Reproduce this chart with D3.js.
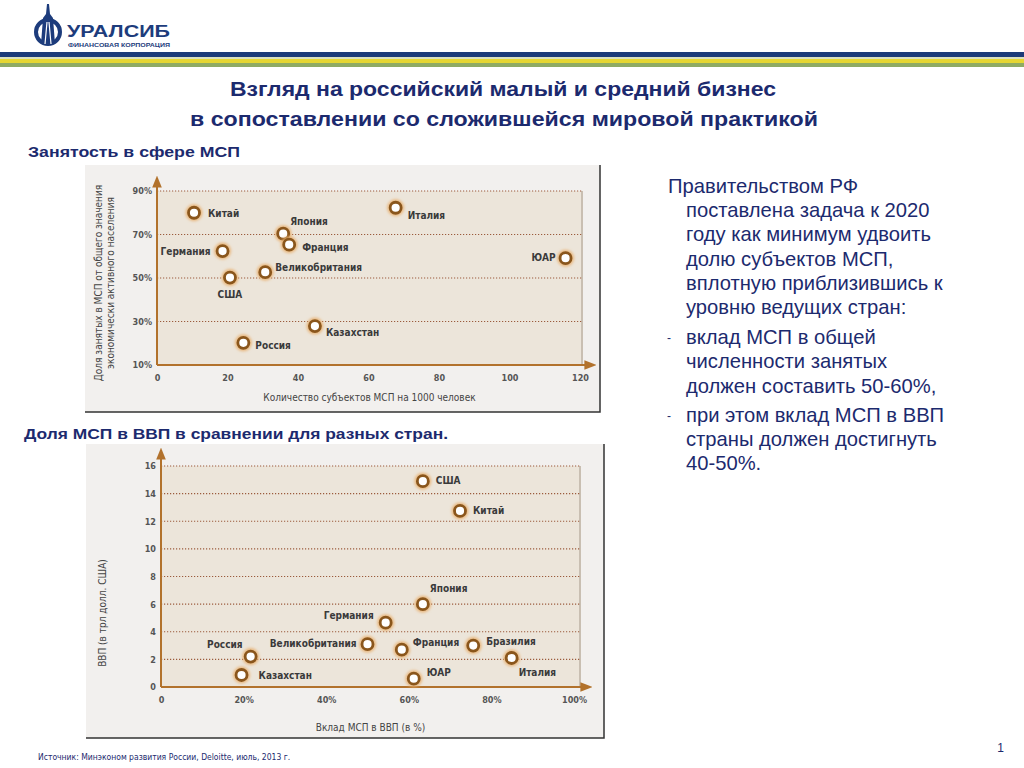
<!DOCTYPE html>
<html>
<head>
<meta charset="utf-8">
<script src="https://cdn.jsdelivr.net/npm/d3@7"></script>
<style>
  body { margin: 0; background: #fff; }
  svg { display: block; font-family: Arial, "Liberation Sans", sans-serif; }
  .lbl, .tick text, .atitle { font-family: "Liberation Sans Narrow", "DejaVu Sans Condensed", Arial, sans-serif; }
</style>
</head>
<body>
<svg id="slide" width="1024" height="768"></svg>
<script>
// --- chart 1: employment in SME ---
var countries1 = ["Китай", "Италия", "Япония", "Франция", "Германия", "Великобритания", "США", "ЮАР", "Казахстан", "Россия"];
var smePer1000 = [10.5, 67.7, 35.8, 37.5, 18.6, 30.7, 20.7, 115.9, 44.8, 24.5];
var employShare = [80, 82.3, 70.4, 65.3, 62.4, 52.7, 50.2, 59.1, 27.9, 20.2];
var yTicks1 = [10, 30, 50, 70, 90];
var xTicks1 = [0, 20, 40, 60, 80, 100, 120];

// --- chart 2: SME share in GDP ---
var countries2 = ["США", "Китай", "Япония", "Германия", "Великобритания", "Франция", "Бразилия", "Италия", "Россия", "Казахстан", "ЮАР"];
var smeGdpShare = [63.4, 72.4, 63.4, 54.4, 50, 58.3, 75.6, 84.9, 21.7, 19.5, 61.2];
var gdpTrln = [14.9, 12.75, 6.0, 4.66, 3.1, 2.7, 3.0, 2.1, 2.2, 0.87, 0.6];
var yTicks2 = [0, 2, 4, 6, 8, 10, 12, 14, 16];
var xTicks2 = [0, 20, 40, 60, 80, 100];

// label placement (dx, dy, anchor) per point
var place1 = [[14, 4, "start"], [12, 11, "start"], [7, -9, "start"], [13, 6, "start"], [-12, 4, "end"],
              [10, -1, "start"], [0, 20, "middle"], [-10, 3, "end"], [11, 10, "start"], [12, 6, "start"]];
var place2 = [[13, 3, "start"], [13, 3, "start"], [7, -12, "start"], [-12, -4, "end"], [-11, 3, "end"],
              [11, -4, "start"], [13, -1, "start"], [7, 18, "start"], [-8, -9, "end"], [17, 4, "start"], [13, -3, "start"]];

var navy = "#1c2a6e";
var svg = d3.select("#slide");

var defs = svg.append("defs");
var glow = defs.append("filter").attr("id", "glow").attr("x", "-50%").attr("y", "-50%").attr("width", "200%").attr("height", "200%");
glow.append("feGaussianBlur").attr("stdDeviation", 1.4);
defs.append("marker").attr("id", "arrow").attr("viewBox", "0 0 10 10").attr("refX", 8).attr("refY", 5)
  .attr("markerWidth", 6).attr("markerHeight", 6).attr("orient", "auto")
  .append("path").attr("d", "M0,1 L10,5 L0,9 z").attr("fill", "#b2722c");

// header logo + stripes
var logo = svg.append("g");
logo.append("circle").attr("cx", 48).attr("cy", 32).attr("r", 12).attr("fill", "none").attr("stroke", "#1d3c7c").attr("stroke-width", 4);
logo.append("path").attr("d", "M47,4 L49,4 L50,14 L53,18 L55,44 L41,44 L43,18 L46,14 Z").attr("fill", "#1d3c7c");
logo.append("path").attr("d", "M45,44 L47,22 M51,44 L49,22").attr("stroke", "#fff").attr("stroke-width", 1.2);
logo.append("text").attr("x", 67).attr("y", 37).attr("font-size", 16).attr("font-weight", 900)
  .attr("fill", "#1d3c7c").attr("textLength", 103).attr("lengthAdjust", "spacingAndGlyphs").text("УРАЛСИБ");
logo.append("text").attr("x", 68).attr("y", 47).attr("font-size", 6).attr("font-weight", "bold")
  .attr("fill", "#1d3c7c").attr("textLength", 102).attr("lengthAdjust", "spacingAndGlyphs").text("ФИНАНСОВАЯ КОРПОРАЦИЯ");
svg.append("rect").attr("x", 0).attr("y", 52).attr("width", 1024).attr("height", 5).attr("fill", "#1b3a78");
svg.append("rect").attr("x", 0).attr("y", 57).attr("width", 1024).attr("height", 2).attr("fill", "#d9e0c0");
svg.append("rect").attr("x", 0).attr("y", 59).attr("width", 1024).attr("height", 4).attr("fill", "#e6d632");
svg.append("rect").attr("x", 0).attr("y", 63).attr("width", 1024).attr("height", 4).attr("fill", "#8fab63");

// titles
function wideText(x, y, size, len, txt) {
  svg.append("text").attr("x", x).attr("y", y).attr("font-size", size).attr("font-weight", "bold")
    .attr("fill", navy).attr("textLength", len).attr("lengthAdjust", "spacingAndGlyphs").text(txt);
}
wideText(230, 96, 20, 546, "Взгляд на российский малый и средний бизнес");
wideText(190, 126, 20, 628, "в сопоставлении со сложившейся мировой практикой");
wideText(28, 157, 15.5, 212, "Занятость в сфере МСП");
wideText(24, 439, 15.5, 424, "Доля МСП в ВВП в сравнении для разных стран.");

function scatter(cfg) {
  var g = svg.append("g");
  var x = d3.scaleLinear().domain(cfg.xDom).range(cfg.xRange);
  var y = d3.scaleLinear().domain(cfg.yDom).range(cfg.yRange);
  var b = cfg.box;
  // panel with shadowed bottom/right edges
  g.append("rect").attr("x", b[0]).attr("y", b[1]).attr("width", b[2] - b[0]).attr("height", b[3] - b[1]).attr("fill", "#f2f0ee");
  g.append("path").attr("d", "M" + b[0] + "," + b[3] + "H" + b[2] + "V" + b[1]).attr("fill", "none").attr("stroke", "#333").attr("stroke-width", 1.5);
  // plot area
  g.append("rect").attr("x", x(cfg.xDom[0])).attr("y", y(cfg.yDom[1]))
    .attr("width", cfg.plotRight - x(cfg.xDom[0])).attr("height", y(cfg.yDom[0]) - y(cfg.yDom[1])).attr("fill", "#ece5da");
  g.append("line").attr("x1", cfg.plotRight).attr("x2", cfg.plotRight).attr("y1", y(cfg.yDom[1]))
    .attr("y2", y(cfg.yDom[0])).attr("stroke", "#c9bfb2").attr("stroke-width", 2);
  // dotted grid
  g.selectAll(".grid").data(cfg.yTicks.filter(function (t) { return t !== cfg.yDom[0]; })).enter().append("line")
    .attr("x1", x(cfg.xDom[0])).attr("x2", cfg.plotRight)
    .attr("y1", function (d) { return y(d); }).attr("y2", function (d) { return y(d); })
    .attr("stroke", "#9b5b3c").attr("stroke-width", 1.2).attr("stroke-dasharray", "1.2,1.8");
  // axes
  var ax = g.append("g").attr("transform", "translate(0," + (y(cfg.yDom[0]) + 7) + ")")
    .call(d3.axisBottom(x).tickValues(cfg.xTicks).tickSize(0).tickFormat(cfg.xFmt));
  var ay = g.append("g").attr("transform", "translate(" + (x(cfg.xDom[0]) - 2) + ",0)")
    .call(d3.axisLeft(y).tickValues(cfg.yTicks).tickSize(0).tickFormat(cfg.yFmt));
  [ax, ay].forEach(function (a) {
    a.select(".domain").remove();
    a.selectAll("text").attr("font-size", 9).attr("font-weight", "bold").attr("fill", "#555");
  });
  g.append("line").attr("x1", x(cfg.xDom[0])).attr("x2", x(cfg.xDom[0])).attr("y1", y(cfg.yDom[0]))
    .attr("y2", cfg.arrowTop).attr("stroke", "#b2722c").attr("stroke-width", 2).attr("marker-end", "url(#arrow)");
  g.append("line").attr("x1", x(cfg.xDom[0])).attr("x2", cfg.arrowRight).attr("y1", y(cfg.yDom[0]))
    .attr("y2", y(cfg.yDom[0])).attr("stroke", "#b2722c").attr("stroke-width", 2).attr("marker-end", "url(#arrow)");
  // axis titles
  g.append("text").attr("class", "atitle").attr("x", (x(cfg.xDom[0]) + cfg.plotRight) / 2).attr("y", cfg.xTitleY)
    .attr("text-anchor", "middle").attr("font-size", 10).attr("fill", "#444").text(cfg.xTitle);
  cfg.yTitle.forEach(function (t, i) {
    g.append("text").attr("class", "atitle").attr("transform", "translate(" + (cfg.yTitleX + i * 12) + "," + cfg.yTitleMid + ") rotate(-90)")
      .attr("text-anchor", "middle").attr("font-size", 10).attr("fill", "#444").text(t);
  });
  // points
  var pts = g.selectAll(".pt").data(cfg.names).enter().append("g");
  pts.append("circle").attr("cx", function (d, i) { return x(cfg.xs[i]); }).attr("cy", function (d, i) { return y(cfg.ys[i]); })
    .attr("r", 6.5).attr("fill", "none").attr("stroke", "#e8b070").attr("stroke-width", 3.5).attr("filter", "url(#glow)");
  pts.append("circle").attr("cx", function (d, i) { return x(cfg.xs[i]); }).attr("cy", function (d, i) { return y(cfg.ys[i]); })
    .attr("r", 5.5).attr("fill", "#fff").attr("stroke", "#8a561c").attr("stroke-width", 2.8);
  pts.append("text").attr("class", "lbl")
    .attr("x", function (d, i) { return x(cfg.xs[i]) + cfg.place[i][0]; })
    .attr("y", function (d, i) { return y(cfg.ys[i]) + cfg.place[i][1]; })
    .attr("text-anchor", function (d, i) { return cfg.place[i][2]; })
    .attr("font-size", 10).attr("font-weight", "bold").attr("fill", "#3a3a3a").text(function (d) { return d; });
}

scatter({
  box: [85, 165, 600, 412], xDom: [0, 120], xRange: [157, 580], yDom: [10, 90], yRange: [365, 191],
  plotRight: 582, arrowTop: 178, arrowRight: 594, xTicks: xTicks1, yTicks: yTicks1,
  xFmt: d3.format("d"), yFmt: function (d) { return d + "%"; },
  names: countries1, xs: smePer1000, ys: employShare, place: place1,
  xTitle: "Количество субъектов МСП на 1000 человек", xTitleY: 401,
  yTitle: ["Доля занятых в МСП от общего значения", "экономически активного населения"], yTitleX: 102, yTitleMid: 283
});

scatter({
  box: [86, 444, 604, 738], xDom: [0, 100], xRange: [161, 574], yDom: [0, 16], yRange: [687, 466],
  plotRight: 580, arrowTop: 450, arrowRight: 590, xTicks: xTicks2, yTicks: yTicks2,
  xFmt: function (d) { return d === 0 ? "0" : d + "%"; }, yFmt: d3.format("d"),
  names: countries2, xs: smeGdpShare, ys: gdpTrln, place: place2,
  xTitle: "Вклад МСП в ВВП (в %)", xTitleY: 731,
  yTitle: ["ВВП (в трл долл. США)"], yTitleX: 106, yTitleMid: 613
});

// right-hand text block
var rightLines = [
  ["", "Правительством РФ", 193], ["", "поставлена задача к 2020", 217], ["", "году как минимум удвоить", 241],
  ["", "долю субъектов МСП,", 266], ["", "вплотную приблизившись к", 290], ["", "уровню ведущих стран:", 314],
  ["-", "вклад МСП в общей", 344], ["", "численности занятых", 368], ["", "должен составить 50-60%,", 393],
  ["-", "при этом вклад МСП в ВВП", 422], ["", "страны должен достигнуть", 446], ["", "40-50%.", 470]
];
var rt = svg.append("g").attr("font-size", 20.2).attr("fill", navy);
rt.selectAll(".rl").data(rightLines).enter().append("text")
  .attr("x", function (d, i) { return i === 0 ? 668 : 686; }).attr("y", function (d) { return d[2]; })
  .text(function (d) { return d[1]; });
rt.selectAll(".rb").data(rightLines.filter(function (d) { return d[0]; })).enter().append("text")
  .attr("x", 667).attr("y", function (d) { return d[2] - 2; }).attr("font-size", 12).text(function (d) { return d[0]; });

// footer
svg.append("text").attr("x", 38).attr("y", 760).attr("font-size", 8.5).attr("fill", navy)
  .attr("class", "lbl").text("Источник: Минэконом развития России, Deloitte, июль, 2013 г.");
svg.append("text").attr("x", 1004).attr("y", 752).attr("text-anchor", "end").attr("font-size", 12).attr("fill", navy).text("1");
</script>
</body>
</html>
